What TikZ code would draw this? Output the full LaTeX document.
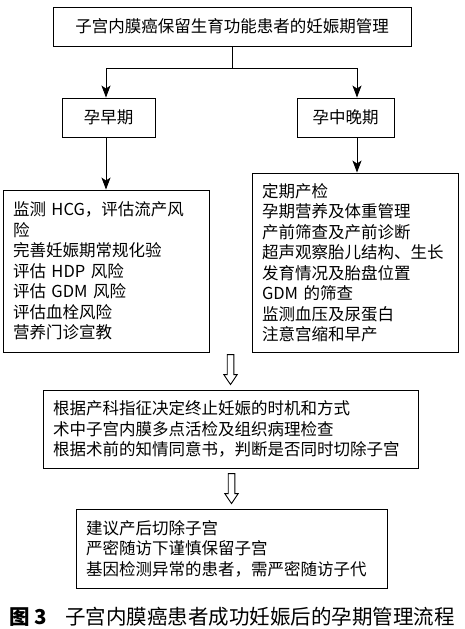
\documentclass[tikz,border=0pt]{standalone}
\usepackage{fontspec}
\setmainfont{Noto Sans CJK SC}
\usepackage{tikz}
\usetikzlibrary{positioning, arrows.meta, calc}

\begin{document}
\begin{tikzpicture}[x=1pt, y=-1pt,
  font=\fontsize{16.5}{20.5}\selectfont,
  box/.style={draw, line width=0.9pt, inner sep=0pt},
  lst/.style={box, align=left, inner xsep=10pt},
  arr/.style={-{Stealth[length=12pt, width=9pt, inset=3pt]}, line width=0.9pt},
  hollow/.style={draw, line width=0.9pt, line join=miter}]
\useasboundingbox (0,0) rectangle (465,629);

\node[box, minimum width=358pt, minimum height=39pt](top) at (232,26.5) {子宫内膜癌保留生育功能患者的妊娠期管理};
\node[box, minimum width=93pt, minimum height=39pt](early) at (108.5,117.5) {孕早期};
\node[box, minimum width=97pt, minimum height=39pt](late) at (345.5,117.5) {孕中晚期};

\node[lst, text width=186pt, minimum height=162pt](elist) at (106,271)
  {监测 HCG，评估流产风\\险\\完善妊娠期常规化验\\评估 HDP 风险\\评估 GDM 风险\\评估血栓风险\\营养门诊宣教};
\node[lst, text width=186pt, minimum height=179pt](llist) at (355,262.5)
  {定期产检\\孕期营养及体重管理\\产前筛查及产前诊断\\超声观察胎儿结构、生长\\发育情况及胎盘位置\\GDM 的筛查\\监测血压及尿蛋白\\注意宫缩和早产};

\node[lst, text width=355pt, minimum height=78pt](plan) at (230.5,429)
  {根据产科指征决定终止妊娠的时机和方式\\术中子宫内膜多点活检及组织病理检查\\根据术前的知情同意书，判断是否同时切除子宫};
\node[lst, text width=291pt, minimum height=79pt](post) at (231.5,548.5)
  {建议产后切除子宫\\严密随访下谨慎保留子宫\\基因检测异常的患者，需严密随访子代};

\node[anchor=west, inner sep=0pt, font=\fontsize{20.5}{24}\selectfont](cap) at (9,617)
  {{\bfseries 图 3}\hspace{0.9em}子宫内膜癌患者成功妊娠后的孕期管理流程};

% branch
\coordinate (jl) at (106,68);
\coordinate (jr) at (357,68);
\draw[line width=0.9pt] (top.south) -- (top.south |- jl);
\draw[line width=0.9pt] (jl) -- (jr);
\foreach \c/\n in {jl/early, jr/late}
  {\draw[arr](\c) -- (\c |- \n.north);}
\draw[arr](jl |- early.south) -- (jl |- elist.north);
\draw[arr](jr |- late.south) -- (jr |- llist.north);

% hollow arrows
\foreach \n in {plan, post}
  {\draw[hollow] ($(\n.north)+(-3.3,-35)$) -- ++(0,20) -- ++(-3.4,0) -- ++(6.7,10)
     -- ++(6.7,-10) -- ++(-3.4,0) -- ++(0,-20) -- cycle;}

\end{tikzpicture}
\end{document}
